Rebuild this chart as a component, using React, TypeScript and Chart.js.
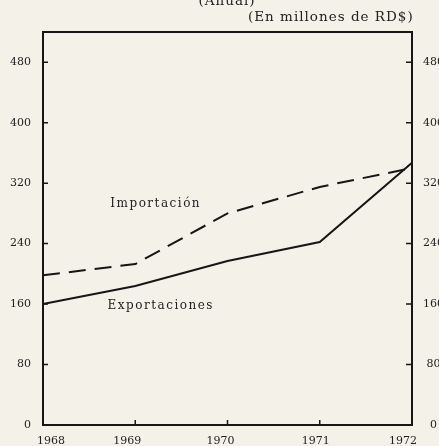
import React, { useEffect, useRef } from "react";
import { Chart, registerables } from "chart.js";

Chart.register(...registerables);

const years = ["1968", "1969", "1970", "1971", "1972"];
const exportaciones = [160, 184, 217, 242, 347];
const importacion = [198, 213, 280, 315, 340];
const yTicks = [0, 80, 160, 240, 320, 400, 480];
const yMax = 520;
const titleLines = ["(Anual)", "(En millones de RD$)"];
const seriesLabels = ["Exportaciones", "Importación"];
// small horizontal nudges of the year labels, as printed
const yearLabelShift = [8, -8, -7, -4, -9];

const BG = "#f4f1e8";
const INK = "#161616";
const TEXT = "#222222";
const FONT = "DejaVu Serif";

export default function App() {
  const ref = useRef<HTMLCanvasElement | null>(null);

  useEffect(() => {
    document.body.style.background = BG;
    const canvas = ref.current;
    if (!canvas) return;

    const decor = {
      id: "decor",
      beforeDraw(chart: any) {
        const { ctx } = chart;
        ctx.save();
        ctx.fillStyle = BG;
        ctx.fillRect(0, 0, chart.width, chart.height);
        ctx.restore();
      },
      afterDraw(chart: any) {
        const { ctx, chartArea: a } = chart;
        const x = chart.scales.x;
        const y = chart.scales.y;
        ctx.save();
        // frame
        ctx.strokeStyle = INK;
        ctx.lineWidth = 2;
        ctx.strokeRect(a.left, a.top, a.right - a.left, a.bottom - a.top);
        // inward ticks
        ctx.lineWidth = 1.5;
        ctx.beginPath();
        yTicks.forEach((v) => {
          if (v === 0) return;
          const py = y.getPixelForValue(v);
          ctx.moveTo(a.left, py);
          ctx.lineTo(a.left + 5, py);
          ctx.moveTo(a.right, py);
          ctx.lineTo(a.right - 6, py);
        });
        years.forEach((_, i) => {
          if (i === 0 || i === years.length - 1) return;
          const px = x.getPixelForValue(i);
          ctx.moveTo(px, a.bottom);
          ctx.lineTo(px, a.bottom - 5);
        });
        ctx.stroke();

        // year labels
        ctx.fillStyle = TEXT;
        ctx.textBaseline = "middle";
        ctx.textAlign = "center";
        ctx.font = `11px "${FONT}"`;
        years.forEach((lab, i) => {
          ctx.fillText(lab, x.getPixelForValue(i) + yearLabelShift[i], a.bottom + 16);
        });

        // titles
        ctx.font = `13.5px "${FONT}"`;
        (ctx as any).letterSpacing = "1px";
        ctx.textAlign = "center";
        ctx.fillText(titleLines[0], 227, 1);
        ctx.textAlign = "left";
        ctx.fillText(titleLines[1], 248, 17);

        // series labels
        ctx.font = `12px "${FONT}"`;
        (ctx as any).letterSpacing = "1.5px";
        ctx.fillText(seriesLabels[1], x.getPixelForValue(0.73), y.getPixelForValue(292));
        ctx.fillText(seriesLabels[0], x.getPixelForValue(0.7), y.getPixelForValue(157));
        ctx.restore();
      },
    };

    const fixedTicks = (scale: any) => {
      scale.ticks = yTicks.map((v) => ({ value: v }));
    };

    const chart = new Chart(canvas, {
      type: "line",
      data: {
        labels: years,
        datasets: [
          {
            label: seriesLabels[0],
            data: exportaciones,
            borderColor: INK,
            borderWidth: 2,
            pointRadius: 0,
            tension: 0,
            fill: false,
          },
          {
            label: seriesLabels[1],
            data: importacion,
            borderColor: INK,
            borderWidth: 2,
            borderDash: [17, 9],
            pointRadius: 0,
            tension: 0,
            fill: false,
          },
        ],
      },
      options: {
        responsive: false,
        maintainAspectRatio: false,
        animation: false,
        devicePixelRatio: 1,
        layout: { padding: { top: 32, left: 0, right: 0, bottom: 0 } },
        plugins: {
          legend: { display: false },
          tooltip: { enabled: false },
          title: { display: false },
        },
        scales: {
          x: {
            type: "category",
            offset: false,
            grid: { display: false, drawTicks: false },
            border: { display: false },
            ticks: { display: false },
            afterFit: (s: any) => {
              s.height = 21;
            },
          },
          y: {
            position: "left",
            min: 0,
            max: yMax,
            grid: { display: false, drawTicks: false },
            border: { display: false },
            afterBuildTicks: fixedTicks,
            ticks: {
              color: TEXT,
              font: { family: FONT, size: 11 },
              padding: 12,
            },
            afterFit: (s: any) => {
              s.width = 43;
            },
          },
          y2: {
            position: "right",
            min: 0,
            max: yMax,
            grid: { display: false, drawTicks: false },
            border: { display: false },
            afterBuildTicks: fixedTicks,
            ticks: {
              color: TEXT,
              font: { family: FONT, size: 11 },
              padding: 11,
              crossAlign: "center",
            },
            afterFit: (s: any) => {
              s.width = 38;
            },
          },
        },
      },
      plugins: [decor],
    });

    return () => chart.destroy();
  }, []);

  return (
    <div style={{ position: "fixed", left: 0, top: 0, width: 450, height: 446, background: BG }}>
      <canvas ref={ref} width={450} height={446} style={{ display: "block", width: 450, height: 446 }} />
    </div>
  );
}
